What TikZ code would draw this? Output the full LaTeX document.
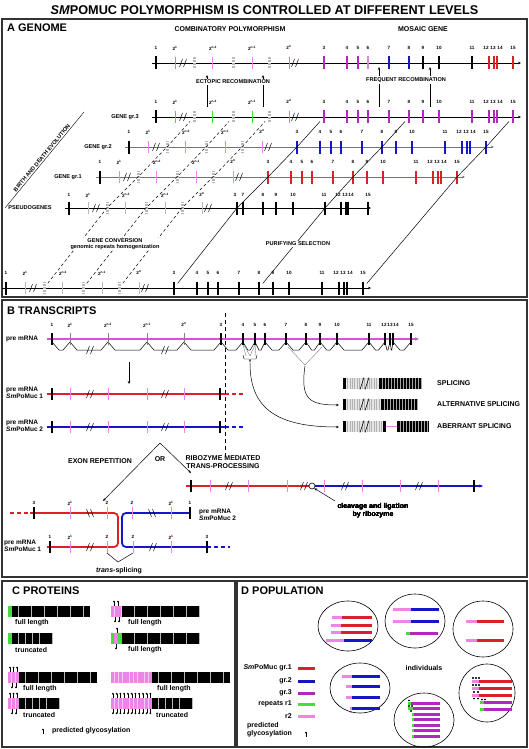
\documentclass[tikz,border=0pt]{standalone}
\usepackage{fontspec}
\setmainfont{Liberation Sans}
\usetikzlibrary{arrows.meta}

\definecolor{mucred}{RGB}{218,32,42}
\definecolor{mucblue}{RGB}{22,22,200}
\definecolor{mucpurple}{RGB}{178,40,188}
\definecolor{mucpink}{RGB}{238,132,232}
\definecolor{mucgreen}{RGB}{70,220,60}
\definecolor{mucgray}{RGB}{185,185,185}
\definecolor{premrna}{RGB}{214,84,214}

\newcommand{\titlefont}{\fontsize{12.7}{14}\selectfont\bfseries}
\newcommand{\panelfont}{\fontsize{11}{13}\selectfont\bfseries}
\newcommand{\midfont}{\fontsize{7}{8}\selectfont\bfseries}
\newcommand{\lblfont}{\fontsize{5.6}{6.5}\selectfont\bfseries}
\newcommand{\exnumfont}{\fontsize{4.6}{5}\selectfont\bfseries}

\tikzset{
  panelbox/.style={draw=black!80, line width=1.2pt},
  panelhead/.style={font=\panelfont, anchor=west, inner sep=0pt},
  geneline/.style={line width=0.6pt, -{Stealth[length=3pt,width=2.6pt]}},
  exonbar/.style={line width=1.6pt},
  repmark/.style={line width=0.7pt},
  stripe/.style={mucgray, line width=3pt, dash pattern=on 0.8pt off 0.7pt},
  evo/.style={line width=0.5pt, shorten <=6pt, shorten >=6pt},
  evodash/.style={evo, dash pattern=on 3pt off 2.5pt},
  exnum/.style={font=\exnumfont, inner sep=0.5pt},
  lbl/.style={font=\lblfont, inner sep=1pt},
  blbl/.style={font=\midfont, inner sep=1pt},
  rna/.style={line width=1.8pt},
  pinmark/.style={line width=0.3pt},
  smallarrow/.style={line width=0.5pt, -{Stealth[length=3pt,width=2.5pt]}},
}

% exon positions of a full gene (x, label)
\newcommand{\exonpos}{324/3,347/4,358/5,368/6,389/7,409/8,423/9,439/10,472/11,489/12,494/13,497/14,513/15}
\newcommand{\exonlbl}{324/3,347/4,358/5,368/6,389/7,409/8,423/9,439/10,472/11,486/12,493/13,500/14,513/15}
\newcommand{\replbl}{156/1,175/2\textsuperscript{1},213/2\textsuperscript{n-2},252/2\textsuperscript{n-1},289/2\textsuperscript{n}}

\newcommand{\cutmark}[2]{\draw[line width=0.5pt] (#1-3.5,#2+4) -- (#1-0.5,#2-4) (#1+0.5,#2+4) -- (#1+3.5,#2-4);}
\newcommand{\cutmarkb}[2]{\draw[line width=0.5pt] (#1-3.5,#2-4) -- (#1-0.5,#2+4) (#1+0.5,#2-4) -- (#1+3.5,#2+4);}
\newcommand{\barcut}[2]{\draw[line width=0.6pt] (#1-5,#2+6) -- (#1-1,#2-6) (#1,#2+6) -- (#1+4,#2-6);}

% prefix, y, line colour, outer repeats, inner repeats, exon colour
\newcommand{\generow}[6]{%
  \draw[geneline,#3] (152,#2) -- (521,#2);
  \draw[exonbar] (156,#2-6.5) -- (156,#2+6.5);
  \foreach \p/\c in {175/#4,212/#5,252/#5,289/#4}
    \draw[repmark,\c] (\p,#2-6) -- (\p,#2+6);
  \foreach \p/\n in {194/ga,233/gb,269/gc} {
    \draw[stripe] (\p,#2-6) -- (\p,#2+6);
    \coordinate (#1-\n) at (\p,#2);
  }
  \cutmark{183}{#2} \cutmark{295}{#2}
  \foreach \p/\n in \exonpos {
    \draw[exonbar,#6] (\p,#2-6.5) -- (\p,#2+6.5);
    \coordinate (#1-\n) at (\p,#2);
  }
  \foreach \p/\t in \replbl \node[exnum] (#1-n\p) at (\p,#2-15) {\t};
  \foreach \p/\t in \exonlbl \node[exnum] (#1-n\p) at (\p,#2-15) {\t};
}

% y, colour of a transcript
\newcommand{\murow}[2]{%
  \draw[rna,#2] (47,#1) -- (225,#1);
  \draw[rna,#2,dash pattern=on 4pt off 3pt] (225,#1) -- (245,#1);
  \foreach \p in {70,108,147,184} \draw[repmark,mucpink] (\p,#1-6) -- (\p,#1+6);
  \foreach \p in {52,220} \draw[exonbar] (\p,#1-6) -- (\p,#1+6);
  \cutmark{90}{#1} \cutmark{165}{#1}
}

\newcommand{\grayrun}[3]{% x0, x1, y
  \fill[gray!60] (#1,#3) rectangle (#2,#3+11);
  \pgfmathtruncatemacro\nst{(#2-#1)/1.7}
  \foreach \i in {0,...,\nst} \draw[gray!20, line width=0.5pt] (#1+\i*1.7+0.8,#3) -- (#1+\i*1.7+0.8,#3+11);
}
\newcommand{\blackrun}[3]{% x0, x1, y
  \fill[black] (#1,#3) rectangle (#2,#3+11);
  \pgfmathtruncatemacro\nbl{(#2-#1)/3}
  \foreach \i in {1,...,\nbl} \draw[gray!70, line width=0.4pt] (#1+\i*3,#3) -- (#1+\i*3,#3+11);
}
\newcommand{\cellrun}[6]{% x0, y, cells, width, cell colour, gap colour
  \fill[#6] (#1,#2) rectangle (#1+#3*#4,#2+11);
  \foreach \i in {1,...,#3}
    \fill[#5] (#1+\i*#4-#4+0.35,#2) rectangle (#1+\i*#4-0.35,#2+11);
}
\newcommand{\pinup}[2]{\draw[pinmark] (#1,#2) -- (#1,#2-4); \fill (#1,#2-4.3) circle [radius=1pt];}
\newcommand{\pindown}[2]{\draw[pinmark] (#1,#2) -- (#1,#2+4); \fill (#1,#2+4.3) circle [radius=1pt];}
\newcommand{\mucbar}[6]{\draw[line width=3pt,#5] (#1,#4) -- (#2,#4); \draw[line width=3pt,#6] (#2,#4) -- (#3,#4);}

\begin{document}
\begin{tikzpicture}[x=1pt,y=-1pt]
\useasboundingbox (0,0) rectangle (529,749);
\node[font=\titlefont] (title) at (264.5,10) {\textit{SM}POMUC POLYMORPHISM IS CONTROLLED AT DIFFERENT LEVELS};

% ---------- A GENOME
\draw[panelbox] (2,19) rectangle (527,297);
\node[panelhead] (headA) at (7,28) {A GENOME};
\node[blbl] (combi) at (230,29) {COMBINATORY POLYMORPHISM};
\node[blbl] (mosaic) at (423,29) {MOSAIC GENE};

\generow{top}{63}{black}{mucgreen}{mucpink}{mucpurple}
\foreach \n/\c in {6/mucpurple!55,7/mucblue,8/mucblue,9/black,10/black,11/black,12/mucred,13/mucred,14/mucred,15/mucred}
  \draw[exonbar,\c] ([yshift=6.5pt]top-\n) -- ([yshift=-6.5pt]top-\n);

\generow{g3}{117}{black}{mucgreen}{mucgreen}{mucpurple}
\node[lbl] (gene3) at (125,117) {GENE gr.3};
\begin{scope}[xshift=-27pt]
\generow{g2}{147}{black!55}{mucpink}{mucpink}{mucblue}
\end{scope}
\node[lbl] (gene2) at (98,147) {GENE gr.2};
\begin{scope}[xshift=-56pt]
\generow{g1}{177}{black!55}{mucpink}{mucpink}{mucred}
\end{scope}
\node[lbl] (gene1) at (68,177) {GENE gr.1};

\begin{scope}[xshift=-87pt] % pseudogene
\draw[geneline] (152,208) -- (458,208);
\draw[exonbar] (156,201.5) -- (156,214.5);
\foreach \p in {175,212,252,289} \draw[repmark,mucgray] (\p,202) -- (\p,214);
\foreach \p/\n in {194/ga,233/gb,269/gc} {\draw[stripe] (\p,202) -- (\p,214); \coordinate (ps-\n) at (\p,208);}
\cutmark{183}{208} \cutmark{295}{208}
\foreach \p/\n in {324/3,330/7,350/8,363/9,380/10,412/11,428/12,433/13,435/14,455/15} {
  \draw[exonbar] (\p,201.5) -- (\p,214.5);
  \coordinate (ps-\n) at (\p,208);
}
\foreach \p/\t in \replbl \node[exnum] (ps-n\p) at (\p,195) {\t};
\foreach \p/\t in {322/3,330/7,350/8,363/9,380/10,411/11,425/12,432/13,438/14,455/15} \node[exnum] (ps-m\p) at (\p,195) {\t};
\end{scope}
\node[lbl] (pseudo) at (30,208) {PSEUDOGENES};

\begin{scope}[xshift=-150pt] % ancestral gene
\generow{bt}{288}{black}{mucgray}{mucgray}{black}
\end{scope}

% evolution
\foreach \g in {ga,gb,gc}
  \draw[evodash] (bt-\g) -- (ps-\g) -- (g1-\g) -- (g2-\g) -- (g3-\g);
\draw[evo] (bt-3) -- (ps-3) -- (g1-3) -- (g2-3) -- (g3-3);
\draw[evo] (bt-8) -- (ps-11) -- (g1-8) -- (g2-8) -- (g3-8);
\draw[evo] (bt-15) -- (g1-15) -- (g2-15) -- (g3-15);
\node[lbl, fill=white, align=center, inner sep=0.5pt] (gconv) at (115,244) {GENE CONVERSION\\genomic repeats homogenization};
\node[lbl, fill=white] (purif) at (298,244) {PURIFYING SELECTION};

\coordinate (bdA) at (5,208);
\coordinate (bdB) at (84,112);
\draw[line width=0.4pt] (bdA) -- (bdB) node[lbl, midway, sloped, above, inner sep=1.2pt] (birth) {BIRTH AND DEATH EVOLUTION};

% recombination
\coordinate (ecA) at (207,107); \coordinate (ecAt) at (207,75);
\coordinate (ecB) at (263,107); \coordinate (ecBt) at (263,75);
\coordinate (frA) at (379,107); \coordinate (frAt) at (379,67);
\coordinate (frB) at (430,107); \coordinate (frBt) at (430,67);
\foreach \a/\b in {ecA/ecAt,ecB/ecBt,frA/frAt,frB/frBt} \draw[smallarrow] (\a) -- (\b);
\node[lbl, fill=white] (ectopic) at (233,82) {ECTOPIC RECOMBINATION};
\node[lbl, fill=white] (frequent) at (406,80) {FREQUENT RECOMBINATION};

% ---------- B TRANSCRIPTS
\draw[panelbox] (2,300) rectangle (527,577);
\node[panelhead] (headB) at (7,311) {B TRANSCRIPTS};
\foreach \a/\b in {52/70,70/108,108/147,147/184,184/221,221/243,243/255,255/265,265/286,286/306,306/320,320/337,337/369,369/385,385/390,390/393,393/411} {
  \pgfmathsetmacro\d{min(7,(\b-\a)/2.5)}
  \draw[line width=0.5pt] (\a,342) -- (\a+\d,350) -- (\b-\d,350) -- (\b,342);
}
\cutmark{90}{350} \cutmark{165}{350}
\draw[premrna, line width=2.2pt, -{Stealth[length=4pt,width=3.5pt]}] (47,339) -- (419,339);
\foreach \p in {70,108,147,184} \draw[repmark, gray] (\p,333) -- (\p,345);
\foreach \p in {52,221,243,255,265,286,306,320,337,369,385,390,393,411} \draw[exonbar] (\p,333) -- (\p,345);
\foreach \p/\t in {52/1,70/2\textsuperscript{1},108/2\textsuperscript{n-2},147/2\textsuperscript{n-1},184/2\textsuperscript{n},221/3,243/4,255/5,265/6,286/7,306/8,320/9,337/10,369/11,384/12,390/13,396/14,411/15}
  \node[exnum] (pm\p) at (\p,325) {\t};
\node[font=\fontsize{6.5}{7.5}\selectfont\bfseries, anchor=west, inner sep=0pt] (pre0) at (6,339) {pre mRNA};

% splicing events
\draw[gray, line width=0.4pt] (243,345) -- (246,356) (244,345) -- (250,356) (255,345) -- (250,356) (256,345) -- (255,356);
\draw[line width=0.4pt] (243,355) -- (244,359) -- (249,359) -- (250,362) -- (251,359) -- (256,359) -- (257,355);
\draw[gray, line width=0.4pt] (288,347) -- (305,365) -- (322,347);
\coordinate (aberr) at (250,363);
\coordinate (altv) at (305,366);
\coordinate (barC) at (339,427);
\coordinate (barB) at (339,405);
\draw[smallarrow] (aberr) .. controls (250,408) and (276,427) .. (barC);
\draw[smallarrow] (altv) .. controls (300,400) and (310,405) .. (barB);

\fill[black] (343,378) rectangle (345.5,389);
\grayrun{345.5}{378}{378} \blackrun{379}{421}{378} \barcut{365}{383.5}
\fill[black] (343,399) rectangle (345.5,410);
\grayrun{345.5}{380}{399} \blackrun{381}{417}{399} \barcut{365}{404.5}
\fill[black] (343,421) rectangle (345.5,432);
\grayrun{345.5}{383}{421} \fill[black] (383,421) rectangle (386,432);
\draw[mucpink, line width=1.2pt] (386,426.5) -- (397,426.5);
\blackrun{397}{429}{421} \barcut{365}{426.5}
\node[blbl, anchor=west] (spl1) at (436,383.5) {SPLICING};
\node[blbl, anchor=west] (spl2) at (436,404.5) {ALTERNATIVE SPLICING};
\node[blbl, anchor=west] (spl3) at (436,426.5) {ABERRANT SPLICING};

% transcripts of two genes
\coordinate (downA) at (129,362); \coordinate (downB) at (129,384);
\draw[smallarrow] (downA) -- (downB);
\murow{394}{mucred}
\murow{427}{mucblue}
\node[font=\fontsize{6.5}{7.5}\selectfont\bfseries, anchor=west, align=left, inner sep=0pt] (pre1) at (6,393) {pre mRNA\\\textit{Sm}PoMuc 1};
\node[font=\fontsize{6.5}{7.5}\selectfont\bfseries, anchor=west, align=left, inner sep=0pt] (pre2) at (6,426) {pre mRNA\\\textit{Sm}PoMuc 2};
\draw[line width=0.6pt, dash pattern=on 4pt off 3pt] (225,313) -- (225,460);

% exon repetition or ribozyme
\coordinate (orapex) at (160,443);
\coordinate (ortipA) at (103,501);
\coordinate (ortipB) at (191,473);
\draw[smallarrow] (orapex) -- (ortipA);
\draw[smallarrow] (orapex) -- (ortipB);
\node[blbl] (exrep) at (100,461) {EXON REPETITION};
\node[blbl] (orlbl) at (160,459) {OR};
\node[blbl, align=center] (ribomed) at (223,462) {RIBOZYME MEDIATED\\TRANS-PROCESSING};

\draw[rna, mucred] (186,486) -- (309,486);
\draw[rna, mucblue, -{Stealth[length=3.5pt,width=3pt]}] (315,486) -- (483,486);
\node[circle, draw, line width=0.6pt, minimum size=6pt, inner sep=0pt] (ribo) at (312,486) {};
\foreach \p in {210,248,287,324,362,400,438} \draw[repmark,mucpink] (\p,480) -- (\p,492);
\foreach \p in {191,474} \draw[exonbar] (\p,480) -- (\p,492);
\foreach \p in {229,304,345,419} \cutmark{\p}{486}
\node[blbl, align=center] (cleave) at (373,511) {cleavage and ligation\\by ribozyme};
\coordinate (cleaveTail) at (335,501);
\draw[smallarrow] (cleaveTail) -- (ribo.south east);

% trans-splicing
\draw[rna, mucred, dash pattern=on 4pt off 3pt] (10,513) -- (30,513);
\draw[rna, mucred, rounded corners=4pt] (30,513) -- (118,513) -- (118,547) -- (47,547);
\draw[rna, mucblue, rounded corners=4pt] (190,513) -- (122,513) -- (122,547) -- (207,547);
\draw[rna, mucblue, dash pattern=on 4pt off 3pt] (207,547) -- (230,547);
\foreach \p in {70,107,132,171} \draw[repmark,mucpink] (\p,507) -- (\p,519);
\foreach \p in {70,107,133,171} \draw[repmark,mucpink] (\p,541) -- (\p,553);
\foreach \p in {34,190} \draw[exonbar] (\p,507) -- (\p,519);
\foreach \p in {50,207} \draw[exonbar] (\p,541) -- (\p,553);
\cutmarkb{90}{513} \cutmarkb{152}{513}
\cutmark{90}{547} \cutmark{153}{547}
\foreach \p/\t in {34/3,70/2\textsuperscript{1},107/2,132/2,171/2\textsuperscript{1},190/1} \node[exnum] (tu\p) at (\p,503) {\t};
\foreach \p/\t in {50/1,70/2\textsuperscript{1},107/2,133/2,171/2\textsuperscript{1},207/3} \node[exnum] (tl\p) at (\p,537) {\t};
\node[font=\fontsize{6.5}{7.5}\selectfont\bfseries, anchor=west, align=left, inner sep=0pt] (pre3) at (199,515) {pre mRNA\\\textit{Sm}PoMuc 2};
\node[font=\fontsize{6.5}{7.5}\selectfont\bfseries, anchor=west, align=left, inner sep=0pt] (pre4) at (4,546) {pre mRNA\\\textit{Sm}PoMuc 1};
\draw[line width=0.5pt] (107,553) -- (118,562) -- (133,553);
\node[blbl] (trans) at (119,571) {\textit{trans}-splicing};

% ---------- C PROTEINS
\draw[panelbox] (2,581) rectangle (235,747);
\node[panelhead] (headC) at (12,591) {C PROTEINS};
\fill[mucgreen] (8,606) rectangle (11.5,617); \cellrun{12}{606}{12}{6.5}{black}{gray!55}
\fill[mucgreen] (8,633) rectangle (11.5,644); \cellrun{12}{633}{6}{6.8}{black}{gray!55}
\cellrun{111}{606}{3}{3.5}{mucpink}{mucpink!45!white} \cellrun{121.5}{606}{12}{6.5}{black}{gray!55}
\foreach \x in {114,118} \pinup{\x}{606};
\foreach \x in {115,119} \pindown{\x}{617};
\fill[mucgreen] (111,633) rectangle (114,644); \fill[mucpink] (114,633) rectangle (118,644); \fill[mucgreen] (118,633) rectangle (121.5,644);
\cellrun{121.5}{633}{12}{6.5}{black}{gray!55}
\pinup{117}{633} \pindown{116}{644}
\cellrun{8}{672}{3}{3.7}{mucpink}{mucpink!45!white} \cellrun{19}{672}{12}{6.5}{black}{gray!55}
\cellrun{8}{698}{3}{3.7}{mucpink}{mucpink!45!white} \cellrun{19}{698}{6}{6.8}{black}{gray!55}
\foreach \y in {672,698} {\foreach \x in {10,13.5,17} \pinup{\x}{\y};}
\foreach \y in {683,709} {\foreach \x in {12,16} \pindown{\x}{\y};}
\cellrun{111}{672}{11}{3.75}{mucpink}{mucpink!45!white} \cellrun{152}{672}{12}{6.5}{black}{gray!55}
\cellrun{111}{698}{11}{3.75}{mucpink}{mucpink!45!white} \cellrun{152}{698}{6}{6.8}{black}{gray!55}
\foreach \x in {112.9,116.65,...,151} {\pinup{\x}{698} \pindown{\x}{709}}
\node[blbl, anchor=west] (fl1) at (14,623) {full length};
\node[blbl, anchor=west] (tr1) at (14,650) {truncated};
\node[blbl, anchor=west] (fl2) at (127,623) {full length};
\node[blbl, anchor=west] (fl3) at (127,650) {full length};
\node[blbl, anchor=west] (fl4) at (22,689) {full length};
\node[blbl, anchor=west] (tr2) at (22,715) {truncated};
\node[blbl, anchor=west] (fl5) at (156,689) {full length};
\node[blbl, anchor=west] (tr3) at (155,715) {truncated};
\pinup{43}{734}
\node[blbl, anchor=west] (glyc) at (51,731) {predicted glycosylation};

% ---------- D POPULATION
\draw[panelbox] (237,581) rectangle (527,747);
\node[panelhead] (headD) at (241,591) {D POPULATION};
\foreach \n/\x/\y/\rx/\ry in {ind1/348/626/30/25,ind2/415/621/30/27,ind3/483/629/30/28,ind4/360/688/30/25,ind5/424/720/30/27,ind6/487/693/28/29}
  \draw[line width=0.6pt] (\x,\y) ellipse [x radius=\rx pt, y radius=\ry pt];
\mucbar{332}{342}{372}{617}{mucpink}{mucred}
\mucbar{331}{341}{372}{625}{mucpink}{mucred}
\mucbar{331}{341}{372}{632}{mucpink}{mucred}
\mucbar{326}{344}{372}{640}{mucpink}{mucblue}
\mucbar{393}{411}{439}{609}{mucpink}{mucblue}
\mucbar{393}{411}{439}{621}{mucpink}{mucblue}
\mucbar{406}{410}{438}{633}{mucgreen}{mucpurple}
\mucbar{466}{477}{504}{621}{mucpink}{mucred}
\mucbar{466}{477}{504}{640}{mucpink}{mucred}
\mucbar{342}{352}{380}{676}{mucpink}{mucblue}
\mucbar{346}{352}{380}{686}{mucpink}{mucblue}
\mucbar{346}{352}{380}{697}{mucpink}{mucblue}
\mucbar{350}{352}{380}{708}{mucpink}{mucblue}
\fill (351,712) circle [radius=0.6pt];
\mucbar{408}{411}{440}{703}{mucgreen}{mucpurple}
\mucbar{408}{413}{440}{708.5}{mucgreen}{mucpurple}
\foreach \y in {714,719.5,725,730.5,736} \mucbar{412}{414}{440}{\y}{mucgreen}{mucpurple}
\foreach \x/\y in {409/706,412/706,411/711,409/700.5} \fill (\x,\y) circle [radius=0.6pt];
\foreach \y in {681,688,695} \mucbar{472}{479}{512}{\y}{mucpink}{mucred}
\foreach \y in {702,709} \mucbar{480}{484}{512}{\y}{mucgreen}{mucpurple}
\foreach \x/\y in {473/678,476/678,479/678,473/685,476/685,479/685,474/692,478/692,474/698.5,478/698.5,482/699.5,485/699.5} \fill (\x,\y) circle [radius=0.6pt];
\node[blbl] (indiv) at (424,668) {individuals};
\foreach \y/\t/\c in {668/\textit{Sm}PoMuc gr.1/mucred,681/gr.2/mucblue,693/gr.3/mucpurple,704/repeats r1/mucgreen,716/r2/mucpink} {
  \node[blbl, anchor=east] (leg\y) at (293,\y) {\t};
  \draw[line width=3pt,\c] (298,\y) -- (315,\y);
}
\node[blbl, anchor=west, align=left] (legpg) at (246,730) {predicted\\glycosylation};
\pinup{306}{737}
\end{tikzpicture}
\end{document}
